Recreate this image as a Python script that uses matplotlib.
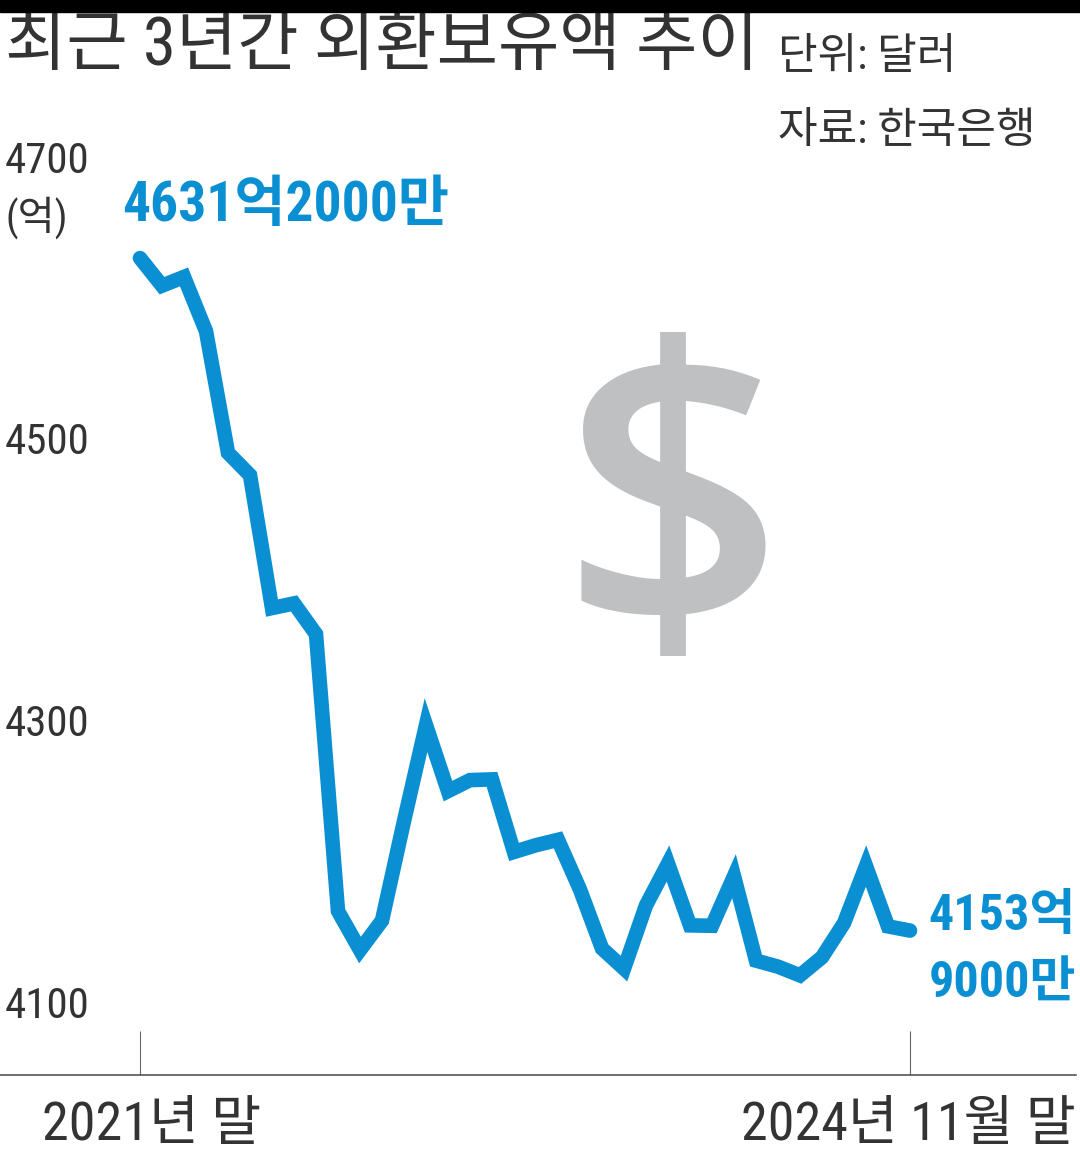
import numpy as np
import matplotlib
matplotlib.use('Agg')
import matplotlib.pyplot as plt
import matplotlib.transforms as mtransforms
from matplotlib import font_manager as fm

# 월말 외환보유액 (억 달러), 2021년 12월 ~ 2024년 11월
values = [4631.2,
          4611.6, 4617.8, 4579.3, 4493.0, 4477.1, 4382.8,
          4386.1, 4364.3, 4167.7, 4140.1, 4161.0, 4231.6,
          4299.7, 4252.9, 4260.7, 4261.2, 4209.7, 4214.5,
          4218.3, 4183.0, 4141.2, 4126.9, 4171.8, 4201.5,
          4157.6, 4157.3, 4192.5, 4132.6, 4128.3, 4122.1,
          4135.0, 4159.2, 4199.7, 4156.9, 4153.9]
y_ticks = [4100, 4300, 4500, 4700]
x_labels = ['2021년 말', '2024년 11월 말']
title = '최근 3년간 외환보유액 추이'
unit_text = '단위: 달러'
source_text = '자료: 한국은행'
start_label = '4631억2000만'
end_label = '4153억\n9000만'

x = np.arange(len(values))

blue = '#0a8fd2'
dark = '#333333'
grey_mark = '#bec0c2'

# 좁은 글꼴이 있으면 숫자에 사용
narrow_names = ['Liberation Sans Narrow', 'Roboto Condensed',
                'DejaVu Sans Condensed', 'Open Sans Condensed',
                'Noto Sans Condensed']
installed = {f.name for f in fm.fontManager.ttflist}
narrow = [n for n in narrow_names if n in installed]
stretch = 'normal'
if not narrow:
    for f in fm.fontManager.ttflist:
        if f.name in ('Noto Sans', 'DejaVu Sans', 'Liberation Sans') and \
                str(f.stretch) in ('condensed', 'extra-condensed',
                                   'semi-condensed', 'ultra-condensed'):
            narrow = [f.name]
            stretch = f.stretch
            break
fonts = narrow[:1] + ['Noto Sans CJK KR', 'DejaVu Sans']
k = 1.0 if narrow else 0.82   # 좁은 글꼴이 없으면 숫자 글자를 줄임
plt.rcParams['font.family'] = fonts
plt.rcParams['font.stretch'] = stretch

W, H = 1080, 1154
fig = plt.figure(figsize=(W / 100, H / 100), dpi=100)
ax = fig.add_axes([0, 1 - 1075 / H, 1076 / W, (1075 - 150) / H])

ax.plot(x, values, color=blue, lw=10.5, solid_capstyle='round',
        solid_joinstyle='miter', zorder=3)

# 22 px per month, month 0 at x=140 px
ax.set_xlim(-140 / 22, len(values) - 1 + 166 / 22)
ax.set_ylim(4051.4, 4707.9)

for s in ['top', 'right', 'left']:
    ax.spines[s].set_visible(False)
ax.spines['bottom'].set_color('#555555')
ax.spines['bottom'].set_linewidth(1.2)
ax.set_xticks([x[0], x[-1]])
ax.set_xticklabels([])
ax.tick_params(axis='x', direction='in', length=32, width=0.8, color='#666666')
ax.set_yticks([])

# y 눈금 라벨
ytrans = mtransforms.blended_transform_factory(ax.transAxes, ax.transData)
for v in y_ticks:
    ax.text(5 / 1076, v, str(v), transform=ytrans, ha='left', va='center',
            fontsize=31 * k, color=dark)
ax.text(5 / 1076, y_ticks[-1] - 40, '(억)', transform=ytrans, ha='left',
        va='center', fontsize=29, color=dark)

# x 라벨
xtrans = mtransforms.blended_transform_factory(ax.transData, ax.transAxes)
ax.annotate(x_labels[0], xy=(x[0], 0), xycoords=xtrans, xytext=(-98, -25),
            textcoords='offset pixels', ha='left', va='top', fontsize=39 * k,
            color=dark, annotation_clip=False)
ax.annotate(x_labels[1], xy=(1, 0), xycoords='axes fraction', xytext=(0, -25),
            textcoords='offset pixels', ha='right', va='top', fontsize=39 * k,
            color=dark, annotation_clip=False)

# 시작/끝 값
ax.annotate(start_label, xy=(x[0], values[0]), xytext=(-18, 52),
            textcoords='offset pixels', ha='left', va='center',
            fontsize=40 * k, fontweight='bold', color=blue)
ax.annotate(end_label, xy=(1, values[-1]), xycoords=ytrans, xytext=(0, -20),
            textcoords='offset pixels', ha='right', va='center',
            fontsize=36 * k, fontweight='bold', color=blue, linespacing=1.55,
            annotation_clip=False)

# 달러 기호
ax.text(0.625, 0.589, '$', transform=ax.transAxes, ha='center', va='center',
        fontsize=285, color=grey_mark, family=['Open Sans', 'DejaVu Sans'],
        fontweight='semibold', fontstretch='normal', zorder=1)

# 제목
fig.text(5 / W, 1 - 47 / H, title, ha='left', va='center', fontsize=48,
         color=dark)
fig.text(778 / W, 1 - 58 / H, unit_text, ha='left', va='center', fontsize=31,
         color=dark)
fig.text(778 / W, 1 - 132 / H, source_text, ha='left', va='center',
         fontsize=31, color=dark)
fig.patches.append(plt.Rectangle((0, 1 - 12 / H), 1, 12 / H,
                                 transform=fig.transFigure, color='black',
                                 zorder=10))

fig.savefig('out.png', dpi=100)
